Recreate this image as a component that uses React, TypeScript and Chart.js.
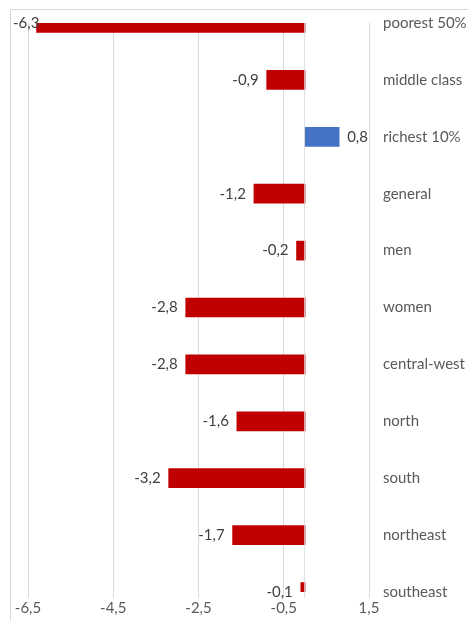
import React, { useEffect, useRef } from "react";
import { Chart, registerables } from "chart.js";

Chart.register(...registerables);

const categories = [
  "poorest 50%",
  "middle class",
  "richest 10%",
  "general",
  "men",
  "women",
  "central-west",
  "north",
  "south",
  "northeast",
  "southeast",
];
const values = [-6.3, -0.9, 0.8, -1.2, -0.2, -2.8, -2.8, -1.6, -3.2, -1.7, -0.1];
const tickValues = [-6.5, -4.5, -2.5, -0.5, 1.5];
const NEG_COLOR = "#C00000";
const POS_COLOR = "#4472C4";
const FONT = "Lato, 'Noto Sans', sans-serif";

const fmt = (v: number) => v.toFixed(1).replace(".", ",");

const extrasPlugin = {
  id: "extras",
  beforeDraw(chart: any) {
    const ctx = chart.ctx;
    ctx.save();
    ctx.strokeStyle = "#d9d9d9";
    ctx.lineWidth = 1;
    ctx.beginPath();
    ctx.moveTo(10.5, chart.height);
    ctx.lineTo(10.5, 9.5);
    ctx.lineTo(chart.width, 9.5);
    ctx.stroke();
    ctx.restore();
  },
  afterDatasetsDraw(chart: any) {
    const ctx = chart.ctx;
    const xs = chart.scales.x;
    const { top, bottom } = chart.chartArea;
    const x0 = Math.round(xs.getPixelForValue(0)) - 0.5;
    ctx.save();
    ctx.strokeStyle = "rgba(217,217,217,0.8)";
    ctx.lineWidth = 1;
    ctx.beginPath();
    ctx.moveTo(x0, top);
    ctx.lineTo(x0, bottom + 6);
    ctx.stroke();

    const meta = chart.getDatasetMeta(0);
    ctx.font = `15px ${FONT}`;
    ctx.fillStyle = "#404040";
    ctx.textBaseline = "middle";
    meta.data.forEach((bar: any, i: number) => {
      const v = values[i];
      const text = fmt(v);
      const end = xs.getPixelForValue(v);
      const y = bar.y;
      const w = ctx.measureText(text).width;
      if (v < 0) {
        let right = end - 8;
        if (right - w < 13) right = 13 + w;
        ctx.textAlign = "right";
        ctx.fillText(text, right, y);
      } else {
        ctx.textAlign = "left";
        ctx.fillText(text, end + 8, y);
      }
    });
    ctx.restore();
  },
};

export default function App() {
  const ref = useRef<HTMLCanvasElement | null>(null);

  useEffect(() => {
    if (!ref.current) return;
    const chart = new Chart(ref.current, {
      type: "bar",
      data: {
        labels: categories,
        datasets: [
          {
            data: values,
            backgroundColor: values.map((v) => (v < 0 ? NEG_COLOR : POS_COLOR)),
            barThickness: 19,
            clip: 0,
          } as any,
        ],
      },
      options: {
        indexAxis: "y",
        animation: false,
        responsive: false,
        maintainAspectRatio: false,
        layout: { padding: { left: 28, top: 23, right: 0, bottom: 0 } },
        plugins: {
          legend: { display: false },
          tooltip: { enabled: false },
        },
        scales: {
          x: {
            type: "linear",
            min: -6.5,
            max: 1.5,
            afterBuildTicks: (s: any) => {
              s.ticks = tickValues.map((v) => ({ value: v }));
            },
            afterFit: (s: any) => {
              s.height = 29;
            },
            border: { display: false },
            grid: {
              color: "#d9d9d9",
              lineWidth: 1,
              drawTicks: true,
              tickLength: 6,
            },
            ticks: {
              padding: 1,
              color: "#595959",
              font: { family: FONT, size: 15 },
              callback: (v: any) => fmt(Number(v)),
              maxRotation: 0,
              autoSkip: false,
            },
          },
          y: {
            type: "category",
            position: "right",
            offset: false,
            afterFit: (s: any) => {
              s.width = 99;
            },
            border: { display: false },
            grid: { display: false, drawTicks: false },
            ticks: {
              padding: 14,
              color: "#595959",
              font: { family: FONT, size: 15 },
              autoSkip: false,
            },
          },
        },
      } as any,
      plugins: [extrasPlugin],
    });
    return () => chart.destroy();
  }, []);

  return (
    <div
      style={{
        position: "fixed",
        left: 0,
        top: 0,
        width: 468,
        height: 621,
        background: "#ffffff",
      }}
    >
      <canvas ref={ref} width={468} height={621} style={{ display: "block" }} />
    </div>
  );
}
